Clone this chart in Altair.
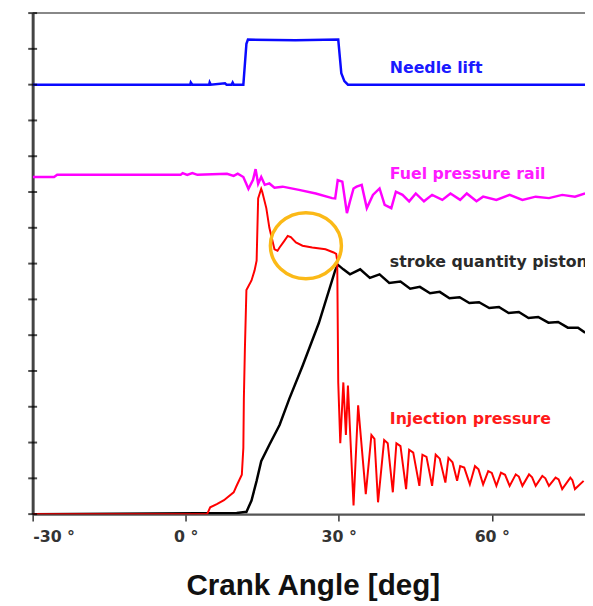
import altair as alt
import pandas as pd

# ---- data (x: crank angle in deg, y: divisions of the unlabeled y-axis) ----
needle_deg = [-30, 0.9, 1.0, 1.3, 4.6, 4.7, 4.9, 7.7, 8.0, 9.0, 9.2, 9.4, 11.3, 11.9, 12.2, 21.5, 29.9, 30.5, 31.1, 31.8, 78.3]
needle_val = [12.0, 12.0, 12.06, 12.0, 12.0, 12.06, 12.0, 12.04, 12.0, 12.0, 12.06, 12.0, 12.0, 13.14, 13.26, 13.24, 13.26, 12.32, 12.1, 12.0, 12.0]

rail_deg = [-30, -25.8, -25.2, -1.0, -0.6, 0.3, 1.3, 2.3, 8.1, 9.4, 10.2, 11.3, 12.3, 13.2, 13.7, 14.2, 14.8, 15.5,
            16.4, 17.4, 19.0, 22.2, 25.5, 28.7, 29.3, 29.8, 30.7, 31.6, 32.2, 32.9, 33.5, 34.5, 35.5, 36.7, 38.0,
            39.0, 40.3, 41.2, 42.5, 43.8, 45.1, 46.7, 48.3, 50.3, 51.9, 53.8, 55.1, 57.0, 58.3, 60.9, 63.5, 66.0,
            68.6, 71.2, 73.8, 76.3, 78.3]
rail_val = [9.42, 9.42, 9.48, 9.48, 9.53, 9.48, 9.53, 9.48, 9.51, 9.45, 9.51, 9.42, 9.09, 9.34, 9.64, 9.23, 9.42, 9.20,
            9.24, 9.12, 9.15, 9.06, 8.96, 8.83, 8.82, 9.33, 9.29, 8.41, 8.74, 9.10, 9.15, 9.20, 8.55, 8.92, 9.10,
            8.64, 8.55, 9.01, 8.92, 8.74, 8.96, 8.74, 8.92, 8.78, 8.96, 8.78, 8.96, 8.74, 8.87, 8.78, 8.92, 8.78,
            8.87, 8.83, 8.92, 8.87, 8.96]

piston_deg = [-30, 10.0, 11.6, 11.9, 12.9, 13.9, 14.8, 16.4, 18.4, 20.3, 22.9, 26.1, 29.3, 29.8, 30.9, 32.2, 34.2,
              36.1, 38.0, 39.9, 42.1, 44.0, 45.9, 47.9, 49.8, 51.7, 53.7, 55.6, 57.5, 59.5, 61.4, 63.3, 65.3, 67.2,
              69.1, 71.1, 73.0, 74.9, 76.9, 78.3]
piston_val = [0, 0.03, 0.06, 0.06, 0.38, 0.93, 1.48, 1.94, 2.49, 3.22, 4.14, 5.34, 6.81, 6.97, 6.84, 6.70, 6.84,
              6.60, 6.70, 6.46, 6.50, 6.30, 6.35, 6.17, 6.21, 6.03, 6.06, 5.90, 5.92, 5.76, 5.79, 5.62, 5.65, 5.48,
              5.51, 5.35, 5.37, 5.21, 5.21, 5.07]

inj_deg = [-30, 4.2, 4.8, 6.1, 7.5, 9.4, 10.0, 11.0, 11.3, 11.4, 11.6, 11.9, 12.9, 13.5, 13.9, 14.2, 14.8, 15.0,
           15.8, 16.4, 17.4, 18.0, 18.4, 19.3, 20.0, 20.6, 21.6, 22.9, 24.8, 27.4, 29.0, 29.5, 29.7, 29.9,
           30.3, 30.9, 31.4, 31.8, 32.9, 33.8, 35.3, 36.4, 37.0, 37.7, 38.9, 39.6, 40.6, 41.3, 42.1, 43.2,
           43.8, 44.6, 45.8, 46.4, 47.2, 48.3, 49.0, 49.8, 50.9, 51.5, 52.3, 53.2, 53.8, 54.6, 55.7, 56.7, 57.4,
           58.3, 59.3, 60.0, 60.9, 61.8, 62.6, 63.5, 64.7, 65.3, 66.0, 67.3, 67.9, 68.6, 69.9, 70.5, 71.2, 72.5,
           73.1, 73.8, 75.4, 75.8, 76.3, 78.0]
inj_val = [0, 0, 0.19, 0.28, 0.39, 0.61, 0.80, 1.10, 1.85, 3.22, 4.60, 6.26, 6.53, 6.81, 7.08, 8.82, 9.09, 9.01,
           8.55, 8.00, 7.40, 7.36, 7.45, 7.63, 7.77, 7.74, 7.59, 7.50, 7.45, 7.40, 7.31, 7.27, 7.08, 3.68,
           1.98, 3.68, 2.21, 3.59, 0.24, 3.04, 0.56, 2.21, 2.10, 0.33, 2.07, 1.98, 0.61, 1.98, 1.90, 0.70,
           1.80, 1.72, 0.79, 1.66, 1.60, 0.79, 1.66, 1.55, 0.88, 1.57, 1.45, 0.93, 1.34, 1.30, 0.83, 1.34, 1.25,
           0.83, 1.20, 1.15, 0.79, 1.16, 1.10, 0.79, 1.11, 1.05, 0.79, 1.11, 1.03, 0.79, 1.07, 1.00, 0.79, 1.02,
           0.97, 0.70, 1.02, 0.95, 0.70, 0.93]

label_text = ["Needle lift", "Fuel pressure rail", "stroke quantity piston", "Injection pressure"]
label_deg = [40.0, 40.0, 40.0, 40.0]
label_val = [12.46, 9.51, 7.03, 2.67]
label_color = ["#1a1aff", "#ff1aff", "#2a2a2a", "#ff1a1a"]

circle_deg = [23.56]
circle_val = [7.5]

x_ticks = [-30, 0, 30, 60]
y_ticks = list(range(0, 15))

W, H = 560, 508
xs = alt.Scale(domain=[-30, 78.27], nice=False, zero=False)
ys = alt.Scale(domain=[0, 14], nice=False, zero=False)

xaxis = alt.Axis(values=x_ticks, labelExpr="datum.value + ' °'", grid=False,
                 labelFont="DejaVu Sans", labelFontWeight="bold", labelFontSize=16, labelColor="#333333",
                 labelPadding=8, tickSize=7, tickColor="#333333", tickWidth=1.5,
                 domainColor="#555555", domainWidth=2.5,
                 title="Crank Angle [deg]", titleFont="Liberation Sans", titleFontSize=30,
                 titleFontWeight="bold", titleColor="#111111", titleX=284, titleY=81,
                 titleAlign="center", titleBaseline="alphabetic")
yaxis = alt.Axis(values=y_ticks, labels=False, grid=False, title=None, ticks=False,
                 domainColor="#444444", domainWidth=3)


def enc():
    return dict(x=alt.X("deg:Q", scale=xs, axis=xaxis), y=alt.Y("val:Q", scale=ys, axis=yaxis))


def line(deg, val, color, width):
    df = pd.DataFrame({"deg": deg, "val": val})
    return alt.Chart(df).mark_line(color=color, strokeWidth=width, clip=True).encode(**enc())


top_border = alt.Chart(pd.DataFrame({"a": [0]})).mark_rule(color="#888888", strokeWidth=2).encode(
    x=alt.value(0), x2=alt.value(W), y=alt.value(0))

yticks = alt.Chart(pd.DataFrame({"val": y_ticks})).mark_tick(
    orient="horizontal", size=9, thickness=2, color="#000000"
).encode(y=alt.Y("val:Q", scale=ys, axis=yaxis), x=alt.value(0))

blue = line(needle_deg, needle_val, "#0a0aff", 2.5)
mag = line(rail_deg, rail_val, "#ff00ff", 2.5)
blk = line(piston_deg, piston_val, "#000000", 2.5)
red = line(inj_deg, inj_val, "#ff0000", 2)

labels = alt.Chart(pd.DataFrame({"deg": label_deg, "val": label_val, "t": label_text, "c": label_color})).mark_text(
    align="left", baseline="middle", font="DejaVu Sans", fontWeight="bold", fontSize=16, clip=False
).encode(text="t:N", color=alt.Color("c:N", scale=None), **enc())

ellipse = "M -1 0 A 1 0.93 0 1 1 1 0 A 1 0.93 0 1 1 -1 0 Z"
circ = alt.Chart(pd.DataFrame({"deg": circle_deg, "val": circle_val})).mark_point(
    shape=ellipse, size=72 * 72, filled=False, stroke="#fbb917", strokeWidth=3.5, opacity=1
).encode(**enc())

chart = alt.layer(top_border, blue, mag, blk, red, circ, labels, yticks).properties(
    width=W, height=H, autosize=alt.AutoSizeParams(type="none"),
    padding={"left": 25, "top": 1, "right": 0, "bottom": 89}
).configure_view(stroke=None)

chart.save("out.html", embed_options={"renderer": "svg", "actions": False})
